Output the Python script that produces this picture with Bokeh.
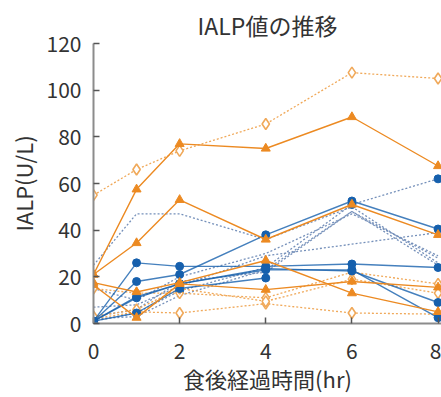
from bokeh.plotting import figure
from bokeh.models import Range1d, FixedTicker
from bokeh.embed import file_html
from bokeh.resources import INLINE

nan = float("nan")

# x values (hours after meal)
hours = [0, 1, 2, 4, 6, 8]
x_ticks = [0, 2, 4, 6, 8]
y_ticks = [0, 20, 40, 60, 80, 100, 120]

# orange solid series (triangle markers)
o_solid_1 = [21, 57.5, 77, 75, 88.5, 67.5]
o_solid_2 = [21, 34.5, 53, 36, 51, 38]
o_solid_3 = [17.5, 13.5, 17.5, 27, 13, 5]
o_solid_4 = [16.5, 2.5, 17, 14.5, 18, 15.5]

# orange dotted series (open diamond markers)
o_dot_1 = [55, 66, 74, 85.5, 107.5, 105]
o_dot_2 = [2, 5, 4.5, 8.5, 4.5, 4]
o_dot_3 = [15, 13, 13, 11, 22, 17]
o_dot_4 = [3, 6, 15, 9.5, 19, 13]

# blue solid series (circle markers)
b_solid_1 = [1, 26, 24.5, 24.5, 25.5, 24]
b_solid_2 = [1, 18, 21, 38, 52.5, 40.5]
b_solid_3 = [1, 11, 17, 23.5, 22.5, 9]
b_solid_4 = [1, 4.5, 15, 19.5, nan, nan]
b_solid_5 = [1, 11.5, 17, 23, 23, 2.5]
b_dot_marked = [1, 4.5, 14, 24, 51, 62]

# blue dotted series (no markers)
b_dot_1 = [25, 47, 47, 36, 50, 26]
b_dot_2 = [15, 10, 20, 30, 47, 29]
b_dot_3 = [7, 8, 16, 29, 34, 39]
b_dot_4 = [3, 6, 18, 22, 48, 25]
b_dot_5 = [2, 3, 12, 23, 48, 28]

ORANGE = "#ec8a22"
ORANGE_LIGHT = "#f0a95a"
BLUE = "#1660ad"
BLUE_DOT = "#7590ba"
FONT = "Noto Sans CJK JP"

p = figure(width=441, height=397, output_backend="svg", toolbar_location=None,
           x_range=Range1d(0, 8.08), y_range=Range1d(0, 120),
           min_border_left=93, min_border_right=0, min_border_top=43,
           min_border_bottom=74, title="IALP値の推移")

p.title.text_font = FONT
p.title.text_font_size = "23px"
p.title.text_font_style = "normal"
p.title.text_color = "#333333"
p.title.align = "center"
p.title.offset = 2
p.title.standoff = 4

p.outline_line_color = None
p.xgrid.visible = False
p.ygrid.visible = False

for b in [b_dot_1, b_dot_2, b_dot_3, b_dot_4, b_dot_5]:
    p.line(hours, b, color=BLUE_DOT, line_width=1.3, line_dash="2 2")

p.line(hours, b_dot_marked, color=BLUE_DOT, line_width=1.3, line_dash="2 2")
p.scatter(hours, b_dot_marked, marker="circle", size=8, color=BLUE)

for o in [o_dot_1, o_dot_2, o_dot_3, o_dot_4]:
    p.line(hours, o, color=ORANGE_LIGHT, line_width=1.3, line_dash="2 2")
    p.scatter(hours, o, marker="diamond", size=11, line_color=ORANGE_LIGHT,
              fill_color="white", line_width=1.6)

for b in [b_solid_1, b_solid_2, b_solid_3, b_solid_4, b_solid_5]:
    p.line(hours, b, color=BLUE, line_width=1.4, line_alpha=0.8)
    p.scatter(hours, b, marker="circle", size=8, color=BLUE)

for o in [o_solid_1, o_solid_2, o_solid_3, o_solid_4]:
    p.line(hours, o, color=ORANGE, line_width=1.4)
    p.scatter(hours, o, marker="triangle", size=9, color=ORANGE)

for ax in [p.xaxis, p.yaxis]:
    ax.axis_line_color = "#8c8c8c"
    ax.axis_line_width = 2
    ax.major_tick_line_color = "#555555"
    ax.major_tick_line_width = 1.5
    ax.major_tick_in = 6
    ax.major_tick_out = 0
    ax.minor_tick_line_color = None
    ax.major_label_text_font = FONT
    ax.major_label_text_font_size = "21px"
    ax.major_label_text_color = "#333333"
    ax.axis_label_text_font = FONT
    ax.axis_label_text_font_size = "22px"
    ax.axis_label_text_font_style = "normal"
    ax.axis_label_text_color = "#333333"

p.xaxis.ticker = FixedTicker(ticks=x_ticks)
p.yaxis.ticker = FixedTicker(ticks=y_ticks)
p.xaxis.major_label_standoff = 19
p.yaxis.major_label_standoff = 12
p.xaxis.axis_label = "食後経過時間(hr)"
p.yaxis.axis_label = "IALP(U/L)"
p.xaxis.axis_label_standoff = 0
p.yaxis.axis_label_standoff = 5

open("out.html", "w").write(file_html(p, INLINE))
